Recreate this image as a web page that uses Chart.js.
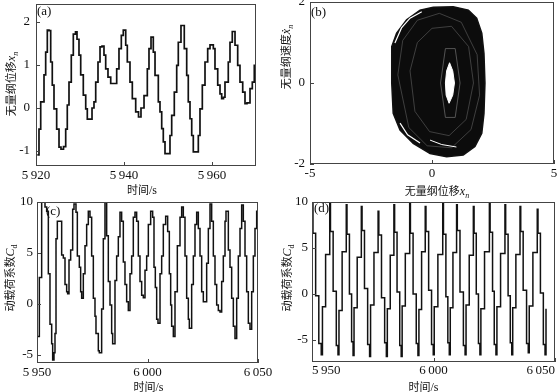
<!DOCTYPE html>
<html>
<head>
<meta charset="utf-8">
<script src="https://cdn.jsdelivr.net/npm/chart.js@4.4.0/dist/chart.umd.min.js"></script>
<style>
  html, body { margin: 0; padding: 0; background: #fff; }
  #wrap { position: relative; width: 557px; height: 392px; overflow: hidden; }
  canvas { position: absolute; }
</style>
</head>
<body>
<div id="wrap">
  <canvas id="chartA" width="275" height="200" style="left:0;top:0"></canvas>
  <canvas id="chartB" width="280" height="200" style="left:277px;top:0"></canvas>
  <canvas id="chartC" width="275" height="196" style="left:0;top:196px"></canvas>
  <canvas id="chartD" width="280" height="196" style="left:277px;top:196px"></canvas>
</div>
<script>
// ---- (a) 位移时程 ----
const timeA = [5920.30, 5920.68, 5921.07, 5921.82, 5922.20, 5922.57, 5922.95, 5923.34, 5923.70, 5924.09,
  5924.70, 5925.23, 5925.68, 5926.25, 5926.75, 5927.11, 5927.50, 5928.02, 5928.48, 5928.98,
  5929.32, 5929.77, 5930.16, 5930.75, 5931.30, 5931.66, 5932.16, 5932.73, 5933.18, 5933.57,
  5934.09, 5934.55, 5935.00, 5935.45, 5935.84, 5936.36, 5936.98, 5937.50, 5938.34, 5938.86,
  5939.39, 5939.84, 5940.39, 5940.75, 5941.36, 5941.89, 5942.66, 5943.30, 5943.86, 5944.55,
  5945.30, 5945.68, 5946.14, 5946.66, 5947.05, 5947.80, 5948.18, 5948.57, 5948.93, 5949.32,
  5950.07, 5950.45, 5950.84, 5951.43, 5951.98, 5952.34, 5952.95, 5953.34, 5953.70, 5954.25,
  5954.61, 5955.00, 5955.39, 5955.75, 5956.52, 5956.89, 5957.27, 5957.80, 5958.41, 5959.02,
  5959.55, 5960.30, 5960.68, 5961.30, 5961.82, 5962.20, 5962.61, 5962.95, 5963.70, 5964.09,
  5964.61, 5965.23, 5965.84, 5966.36, 5966.98, 5967.50, 5967.95, 5968.64, 5969.16, 5969.61,
  5970.00]
const dispA = [-1.09, -0.49, 0.14, 0.77, 1.30, 1.81, 1.80, 1.07, 0.53, -0.02,
  -0.49, -0.91, -0.96, -0.90, -0.49, 0.07, 0.60, 1.23, 1.72, 1.77,
  1.60, 1.23, 0.77, 0.30, -0.02, -0.26, -0.26, 0.00, 0.14, 0.60,
  1.07, 1.42, 1.44, 1.23, 0.91, 0.72, 0.57, 0.57, 0.91, 1.38,
  1.69, 1.81, 1.46, 1.07, 0.60, 0.22, -0.09, -0.21, 0.00, 0.29,
  0.91, 1.38, 1.65, 1.30, 0.76, 0.14, -0.09, -0.48, -0.79, -1.06,
  -1.06, -0.64, -0.17, 0.37, 0.99, 1.53, 1.92, 1.92, 1.38, 0.76,
  0.14, -0.25, -0.64, -1.02, -1.02, -0.64, -0.02, 0.53, 1.07, 1.38,
  1.47, 1.38, 0.91, 0.53, 0.33, 0.22, 0.25, 0.60, 1.07, 1.53,
  1.78, 1.46, 0.99, 0.60, 0.37, 0.10, 0.12, 0.45, 0.60, 0.99,
  1.05]
const ticksAX = [5920, 5940, 5960]
const ticksAY = [-1, 0, 1, 2]

// ---- (b) 相图 ----
const phaseOuterX = [-1.65, -1.65, -1.45, -1.04, -0.49, 0.05, 0.87, 1.49, 1.83, 2.04, 2.13, 2.17,
  2.13, 2.04, 1.76, 1.28, 0.60, -0.08, -0.77, -1.31, -1.59, -1.65]
const phaseOuterY = [0.00, 0.90, 1.23, 1.56, 1.80, 1.87, 1.88, 1.80, 1.60, 1.23, 0.73, 0.00,
  -0.75, -1.24, -1.57, -1.78, -1.82, -1.74, -1.49, -1.16, -0.75, 0.00]
const phaseHoleX = [0.72, 0.85, 0.92, 0.85, 0.70, 0.58, 0.55, 0.60, 0.72]
const phaseHoleY = [0.50, 0.30, 0.00, -0.30, -0.50, -0.30, 0.00, 0.30, 0.50]
const phaseLoop1X = [-1.40, -1.20, -0.60, 0.30, 1.20, 1.85, 1.95, 1.60, 0.80, -0.20, -0.95, -1.40]
const phaseLoop1Y = [0.20, 1.05, 1.55, 1.72, 1.50, 0.70, -0.30, -1.15, -1.60, -1.55, -1.10, 0.20]
const phaseLoop2X = [-0.90, -0.60, 0.00, 0.80, 1.50, 1.70, 1.40, 0.70, -0.10, -0.70, -0.90]
const phaseLoop2Y = [0.30, 1.00, 1.35, 1.40, 0.90, 0.00, -0.90, -1.30, -1.20, -0.70, 0.30]
const phaseLoop3X = [0.35, 0.55, 0.95, 1.15, 0.95, 0.55, 0.35]
const phaseLoop3Y = [0.00, 0.85, 0.85, 0.00, -0.85, -0.85, 0.00]
const phaseArc1X = [-1.31, -1.00, -0.49]
const phaseArc1Y = [-0.99, -1.28, -1.48]
const phaseArc2X = [-1.52, -1.25, -0.90, -0.42]
const phaseArc2Y = [0.99, 1.36, 1.60, 1.76]
const phaseArc3X = [-0.08, 0.40, 1.00]
const phaseArc3Y = [-1.41, -1.52, -1.58]
const ticksBX = [-5, 0, 5]
const ticksBY = [-2, 0, 2]

// ---- (c) 动载荷系数 ----
const timeC = [5950.15, 5951.06, 5952.11, 5953.62, 5954.37, 5955.13, 5955.88, 5956.64, 5957.09, 5957.69,
  5958.14, 5958.60, 5959.20, 5960.10, 5961.16, 5961.91, 5962.67, 5963.42, 5963.87, 5964.48,
  5965.23, 5966.14, 5966.74, 5967.64, 5968.25, 5969.15, 5969.75, 5970.21, 5970.96, 5971.72,
  5972.47, 5973.22, 5973.98, 5974.73, 5975.49, 5976.24, 5976.69, 5977.75, 5978.20, 5979.25,
  5980.01, 5980.76, 5981.52, 5982.27, 5983.03, 5983.78, 5984.23, 5985.29, 5986.04, 5986.80,
  5987.55, 5988.30, 5989.06, 5989.81, 5990.57, 5991.32, 5992.08, 5992.83, 5993.58, 5994.34,
  5995.09, 5995.85, 5996.60, 5997.36, 5998.11, 5998.87, 5999.62, 6000.38, 6001.43, 6002.33,
  6002.94, 6003.54, 6004.15, 6004.75, 6005.66, 6006.41, 6007.16, 6008.22, 6009.12, 6009.88,
  6010.48, 6010.93, 6011.69, 6012.44, 6013.50, 6014.71, 6015.46, 6016.21, 6016.97, 6017.72,
  6018.48, 6018.93, 6019.98, 6020.74, 6021.49, 6022.25, 6023.00, 6023.76, 6024.51, 6025.26,
  6026.02, 6026.77, 6027.53, 6028.28, 6029.03, 6029.79, 6030.54, 6031.30, 6032.05, 6032.81,
  6033.56, 6034.31, 6035.07, 6035.52, 6036.58, 6037.33, 6038.08, 6038.84, 6039.59, 6040.35,
  6041.10, 6041.86, 6042.61, 6043.36, 6044.12, 6044.87, 6045.63, 6046.38, 6047.14, 6047.89,
  6048.64, 6049.40, 6050.00]
const loadC = [-3.2, 2.6, 10.5, 9.5, 9.1, 2.96, -2.0, -3.9, -5.5, -4.8,
  -2.9, 6.4, 8.1, 8.1, 4.8, 4.5, 1.9, 1.2, 1.0, 4.3,
  5.3, 9.3, 9.8, 9.0, 4.7, 3.6, 1.2, 0.55, 2.96, 5.7,
  7.8, 9.1, 8.5, 4.7, 0.55, -1.2, -2.9, -4.6, -4.8, -0.5,
  6.4, 10.0, 6.7, 2.2, -0.1, -2.9, -3.9, 2.3, 4.7, 6.6,
  9.0, 8.1, 4.1, 1.9, 0.2, -0.65, 2.96, 4.7, 8.5, 9.0,
  8.1, 4.7, 2.2, 0.86, 0.6, 3.3, 4.7, 7.8, 9.1, 8.5,
  3.6, 1.6, -1.5, -1.9, 2.96, 4.7, 7.8, 8.6, 7.1, 2.96,
  -0.1, -2.2, -3.2, 1.2, 5.7, 8.5, 9.5, 8.5, 4.7, 0.55,
  -1.5, -2.4, 1.9, 4.7, 7.8, 9.0, 7.4, 4.7, 1.2, 0.2,
  0.2, 4.0, 7.4, 9.8, 8.1, 4.7, 1.9, -0.1, -0.65, -0.8,
  2.2, 4.7, 8.1, 9.1, 5.3, 3.6, 0.55, -2.2, -3.4, 0.55,
  4.7, 7.4, 9.7, 8.1, 4.7, 1.2, -1.9, -2.5, 1.2, 4.7,
  7.4, 9.1, 8.1]
const ticksCX = [5950, 6000, 6050]
const ticksCY = [-5, 0, 5, 10]

// ---- (d) 动载荷系数 ----
const timeD = [5950.1,
  5950.4, 5951.5, 5952.8, 5953.8, 5954.3, 5955.6, 5957.3,
  5957.6, 5958.7, 5960.0, 5960.7, 5961.1, 5962.4, 5964.1,
  5964.4, 5965.4, 5966.3, 5966.9, 5967.3, 5968.6, 5970.3,
  5970.6, 5971.6, 5972.9, 5973.7, 5974.1, 5975.5, 5977.2,
  5977.5, 5978.6, 5979.9, 5980.6, 5981.0, 5982.2, 5983.7,
  5984.0, 5985.0, 5986.1, 5986.7, 5987.1, 5988.4, 5990.2,
  5990.5, 5991.6, 5992.9, 5993.6, 5994.0, 5995.1, 5996.6,
  5996.9, 5998.0, 5999.2, 5999.9, 6000.3, 6001.8, 6003.8,
  6004.1, 6005.1, 6005.9, 6006.5, 6006.9, 6008.0, 6009.5,
  6009.8, 6010.9, 6012.3, 6013.0, 6013.4, 6014.7, 6016.4,
  6016.7, 6017.6, 6018.5, 6019.1, 6019.5, 6021.0, 6023.0,
  6023.3, 6024.3, 6025.0, 6025.7, 6026.1, 6027.6, 6029.4,
  6029.7, 6030.7, 6031.6, 6032.2, 6032.6, 6033.9, 6035.6,
  6035.9, 6036.9, 6038.3, 6039.0, 6039.4, 6040.9, 6042.7,
  6043.0, 6044.0, 6045.2, 6045.9, 6046.3]
const loadD = [10.2,
  6.6, -0.2, -5.4, -6.6, -1.4, 4.3, 9.9,
  6.8, 0.3, -5.6, -6.6, -1.8, 4.6, 9.7,
  6.5, 0.0, -5.2, -6.7, -1.5, 4.0, 9.5,
  6.9, 0.6, -5.5, -6.8, -1.2, 4.5, 9.0,
  6.4, -0.4, -5.3, -6.8, -1.6, 4.2, 9.7,
  6.7, 0.2, -5.6, -6.8, -1.3, 4.4, 9.9,
  6.6, 0.0, -5.4, -6.7, -1.7, 4.6, 9.5,
  6.8, 0.4, -5.5, -6.6, -1.4, 4.3, 9.9,
  6.5, -0.3, -5.3, -6.6, -1.5, 4.5, 9.7,
  6.9, 0.2, -5.6, -6.6, -1.2, 4.2, 9.5,
  6.6, 0.0, -5.4, -6.6, -1.6, 4.6, 10.1,
  6.7, 0.3, -5.5, -6.6, -1.4, 4.4, 9.7,
  6.5, -0.2, -5.3, -6.6, -1.5, 4.3, 9.5,
  6.8, 0.4, -5.4, -6.4, -1.3, 4.5, 9.2,
  6.6, 0.1, -5.5, -6.6, -1.6]
const ticksDX = [5950, 6000, 6050]
const ticksDY = [-5, 0, 5, 10]

const SERIF = '"Liberation Serif", "Times New Roman", serif'
const CJK = '"Noto Sans CJK SC", sans-serif'
const INK = '#111'

// 轴标题（带下标）
const titleTime = [{ text: '时间', font: `11px ${CJK}` }, { text: '/s', font: `12px ${SERIF}` }]
const titleDisp = [{ text: '无量纲位移', font: `11px ${CJK}` }, { text: 'x', font: `italic 12px ${SERIF}` },
  { text: 'n', font: `italic 8px ${SERIF}`, dy: 3 }]
const titleVel = [{ text: '无量纲速度', font: `11px ${CJK}` }, { text: 'ẋ', font: `italic 12px ${SERIF}` },
  { text: 'n', font: `italic 8px ${SERIF}`, dy: 3 }]
const titleLoad = [{ text: '动载荷系数', font: `11px ${CJK}` }, { text: 'C', font: `italic 12px ${SERIF}` },
  { text: 'd', font: `8px ${SERIF}`, dy: 3 }]

function pairs(xs, ys) {
  return xs.map((x, i) => ({ x: x, y: ys[i] }))
}

function fmtTick(v) {
  const s = String(Math.abs(v)).replace(/\B(?=(\d{3})+(?!\d))/g, '\u2009')
  return (v < 0 ? '-' : '') + s
}

function axis(min, max, tickList, size, isX, pad, align) {
  return {
    type: 'linear',
    min: min,
    max: max,
    grid: { display: false, drawTicks: false },
    border: { display: false },
    ticks: {
      autoSkip: false,
      maxRotation: 0,
      padding: pad,
      align: align || 'center',
      color: INK,
      font: { family: SERIF, size: 13 },
      callback: v => fmtTick(v)
    },
    afterBuildTicks: s => { s.ticks = tickList.map(v => ({ value: v })) },
    afterFit: s => {
      if (isX) s.height = size
      else s.width = size
      s.paddingLeft = 0
      s.paddingRight = 0
      s.paddingTop = 0
      s.paddingBottom = 0
    }
  }
}

function drawRich(ctx, parts, cx, cy, rot) {
  ctx.save()
  ctx.translate(cx, cy)
  ctx.rotate(rot)
  ctx.textBaseline = 'alphabetic'
  ctx.textAlign = 'left'
  ctx.fillStyle = INK
  let total = 0
  parts.forEach(p => { ctx.font = p.font; p.w = ctx.measureText(p.text).width; total += p.w })
  let x = -total / 2
  parts.forEach(p => {
    ctx.font = p.font
    ctx.fillText(p.text, x, 4 + (p.dy || 0))
    x += p.w
  })
  ctx.restore()
}

// 边框、内向刻度、面板标签和轴标题
const panelDecor = {
  id: 'panelDecor',
  afterDraw(chart, args, o) {
    const { ctx, chartArea: a, scales } = chart
    ctx.save()
    ctx.strokeStyle = '#444'
    ctx.lineWidth = 1
    ctx.strokeRect(a.left + 0.5, a.top + 0.5, a.right - a.left - 1, a.bottom - a.top - 1)
    ctx.beginPath()
    scales.x.ticks.forEach(t => {
      const px = Math.round(scales.x.getPixelForValue(t.value)) + 0.5
      ctx.moveTo(px, a.bottom)
      ctx.lineTo(px, a.bottom - 4)
    })
    scales.y.ticks.forEach(t => {
      const py = Math.round(scales.y.getPixelForValue(t.value)) + 0.5
      ctx.moveTo(a.left, py)
      ctx.lineTo(a.left + 4, py)
    })
    ctx.stroke()

    ctx.fillStyle = INK
    ctx.font = `13px ${SERIF}`
    ctx.textBaseline = 'alphabetic'
    ctx.fillText(o.label, a.left + o.labelDx, a.top + o.labelDy)

    drawRich(ctx, o.xTitle, (a.left + a.right) / 2 + o.xTitleDx, o.xTitleY, 0)
    drawRich(ctx, o.yTitle, o.yTitleX, o.yTitleY, -Math.PI / 2)
    ctx.restore()
  }
}

function baseOptions(pad, scales, decor) {
  return {
    responsive: false,
    animation: false,
    events: [],
    layout: { padding: pad },
    scales: scales,
    elements: { point: { radius: 0 }, line: { tension: 0 } },
    plugins: { legend: { display: false }, tooltip: { enabled: false }, panelDecor: decor }
  }
}

new Chart(document.getElementById('chartA'), {
  type: 'line',
  data: {
    datasets: [{ data: pairs(timeA, dispA), borderColor: INK, borderWidth: 1.7, stepped: true, fill: false }]
  },
  options: baseOptions({ left: 0, right: 19, top: 4, bottom: 0 }, {
    x: axis(5920, 5970, ticksAX, 34, true, 2),
    y: axis(-1.35, 2.42, ticksAY, 36, false, 6)
  }, { label: '(a)', labelDx: 1, labelDy: 11, xTitle: titleTime, xTitleDx: -4, xTitleY: 190,
    yTitle: titleDisp, yTitleX: 11, yTitleY: 84 }),
  plugins: [panelDecor]
})

new Chart(document.getElementById('chartB'), {
  type: 'line',
  data: {
    datasets: [
      { data: pairs(phaseHoleX, phaseHoleY), borderColor: '#fff', backgroundColor: '#fff', borderWidth: 1, fill: 'shape' },
      { data: pairs(phaseArc1X, phaseArc1Y), borderColor: '#fff', borderWidth: 1.2, fill: false },
      { data: pairs(phaseArc2X, phaseArc2Y), borderColor: '#fff', borderWidth: 1.2, fill: false },
      { data: pairs(phaseArc3X, phaseArc3Y), borderColor: '#fff', borderWidth: 1.0, fill: false },
      { data: pairs(phaseLoop3X, phaseLoop3Y), borderColor: '#666', borderWidth: 0.8, fill: false },
      { data: pairs(phaseLoop2X, phaseLoop2Y), borderColor: '#555', borderWidth: 0.7, fill: false },
      { data: pairs(phaseLoop1X, phaseLoop1Y), borderColor: '#555', borderWidth: 0.7, fill: false },
      { data: pairs(phaseOuterX, phaseOuterY), borderColor: INK, backgroundColor: '#0c0c0c', borderWidth: 1.5, fill: 'shape' }
    ]
  },
  options: baseOptions({ left: 0, right: 3, top: 2, bottom: 0 }, {
    x: axis(-5, 5, ticksBX, 36, true, 2),
    y: axis(-2, 2, ticksBY, 33, false, 5)
  }, { label: '(b)', labelDx: 1, labelDy: 14, xTitle: titleDisp, xTitleDx: 5, xTitleY: 191,
    yTitle: titleVel, yTitleX: 9, yTitleY: 57 }),
  plugins: [panelDecor]
})

new Chart(document.getElementById('chartC'), {
  type: 'line',
  data: {
    datasets: [{ data: pairs(timeC, loadC), borderColor: INK, borderWidth: 1.5, stepped: true, fill: false }]
  },
  options: baseOptions({ left: 0, right: 17, top: 6, bottom: 0 }, {
    x: axis(5950, 6050, ticksCX, 29, true, 2),
    y: axis(-5.8, 10, ticksCY, 37, false, 4)
  }, { label: '(c)', labelDx: 9, labelDy: 13, xTitle: titleTime, xTitleDx: 1, xTitleY: 191,
    yTitle: titleLoad, yTitleX: 10, yTitleY: 82 }),
  plugins: [panelDecor]
})

new Chart(document.getElementById('chartD'), {
  type: 'line',
  data: {
    datasets: [{ data: pairs(timeD, loadD), borderColor: INK, borderWidth: 1.5, stepped: true, fill: false }]
  },
  options: baseOptions({ left: 0, right: 2, top: 6, bottom: 0 }, {
    x: axis(5950, 6050, ticksDX, 30, true, 1, 'inner'),
    y: axis(-7.4, 10, ticksDY, 35, false, 4)
  }, { label: '(d)', labelDx: 2, labelDy: 10, xTitle: titleTime, xTitleDx: -10, xTitleY: 191,
    yTitle: titleLoad, yTitleX: 10, yTitleY: 82 }),
  plugins: [panelDecor]
})
</script>
</body>
</html>
